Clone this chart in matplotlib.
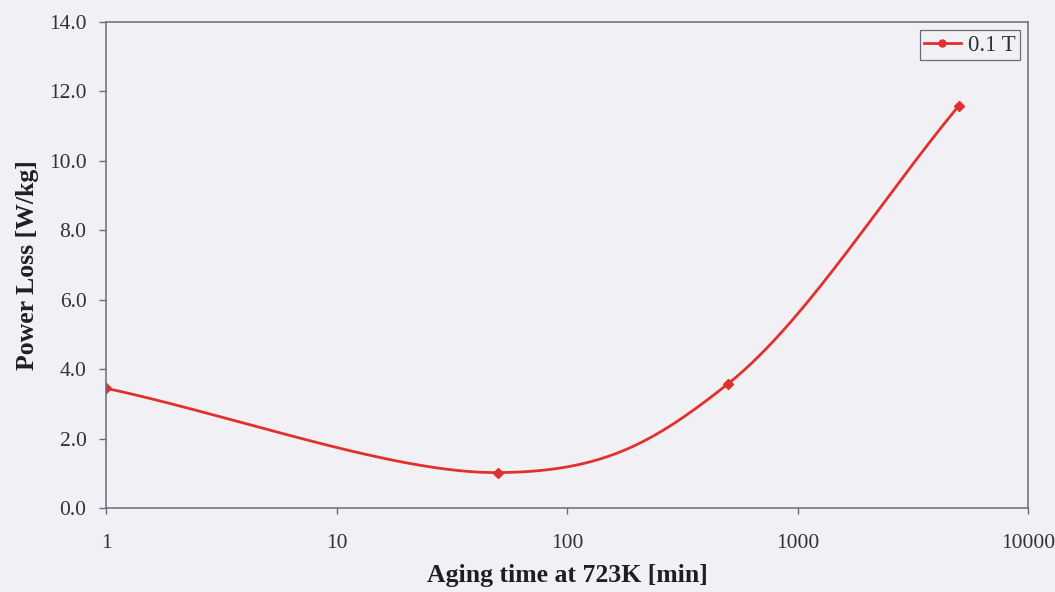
import numpy as np
import matplotlib
matplotlib.use("Agg")
import matplotlib.pyplot as plt
from matplotlib.ticker import FixedLocator, FixedFormatter

# Measured power loss at 0.1 T versus aging time
aging_time = [1, 50, 500, 5000]          # minutes at 723 K
power_loss = [3.45, 1.02, 3.58, 11.58]   # W/kg
series_label = "0.1 T"

x_ticks = [1, 10, 100, 1000, 10000]
x_tick_labels = ["1", "10", "100", "1000", "10000"]
y_ticks = [0, 2, 4, 6, 8, 10, 12, 14]


def smooth_curve(xs, ys, n=60):
    """Catmull-Rom style smoothing in (log10 x, y) space."""
    u = np.log10(np.asarray(xs, float))
    v = np.asarray(ys, float)
    pts = np.column_stack([u, v])
    ext = np.vstack([pts[0] - (pts[1] - pts[0]), pts, pts[-1] + (pts[-1] - pts[-2])])
    out = []
    for i in range(1, len(ext) - 2):
        p0, p1, p2, p3 = ext[i - 1], ext[i], ext[i + 1], ext[i + 2]
        c1 = p1 + (p2 - p0) / 6.0
        c2 = p2 - (p3 - p1) / 6.0
        t = np.linspace(0, 1, n)[:, None]
        seg = ((1 - t) ** 3) * p1 + 3 * ((1 - t) ** 2) * t * c1 + 3 * (1 - t) * t ** 2 * c2 + t ** 3 * p2
        out.append(seg if i == 1 else seg[1:])
    curve = np.vstack(out)
    return 10 ** curve[:, 0], curve[:, 1]


bg = "#f1f1f5"
red = "#e2302c"
spine = "#6a6a78"
text_col = "#303038"

fig = plt.figure(figsize=(10.55, 5.92), dpi=100, facecolor=bg)
ax = fig.add_axes([0.1005, 0.1419, 0.8739, 0.8209], facecolor=bg)

cx, cy = smooth_curve(aging_time, power_loss)
ax.plot(cx, cy, color=red, lw=2.0, solid_capstyle="round")
ax.plot(aging_time, power_loss, linestyle="none", marker="D", ms=5.5,
        color=red, mec=red)
# legend proxy: line with marker
ax.plot([], [], color=red, lw=2.0, marker="o", ms=5, label=series_label)

ax.set_xscale("log")
ax.set_xlim(1, 10000)
ax.set_ylim(0, 14)
ax.xaxis.set_major_locator(FixedLocator(x_ticks))
ax.xaxis.set_major_formatter(FixedFormatter(x_tick_labels))
ax.xaxis.set_minor_locator(FixedLocator([]))
ax.set_yticks(y_ticks)
ax.set_yticklabels([f"{t:.1f}" for t in y_ticks])

serif = ["Liberation Serif", "DejaVu Serif"]
for lbl in ax.get_xticklabels() + ax.get_yticklabels():
    lbl.set_fontfamily(serif)
    lbl.set_fontsize(15.5)
    lbl.set_color(text_col)

ax.tick_params(axis="y", direction="out", length=5, width=1, color=spine, pad=9)
ax.tick_params(axis="x", direction="out", length=4, width=1, color=spine, pad=15)
for s in ax.spines.values():
    s.set_color(spine)
    s.set_linewidth(1.1)

ax.set_xlabel("Aging time at 723K [min]", fontfamily=serif, fontsize=18.5,
              fontweight="bold", color="#1e1e24", labelpad=8)
ax.set_ylabel("Power Loss [W/kg]", fontfamily=serif, fontsize=18.5,
              fontweight="bold", color="#1e1e24", labelpad=7)

leg = ax.legend(loc="upper right", prop={"family": serif, "size": 16.5},
                frameon=True, fancybox=False, edgecolor=spine,
                facecolor=bg, framealpha=1, handlelength=1.6,
                handletextpad=0.3, borderpad=0.2, borderaxespad=0.35)
leg.get_frame().set_linewidth(0.9)
for t in leg.get_texts():
    t.set_color(text_col)

fig.savefig("out.png", dpi=100, facecolor=bg)
